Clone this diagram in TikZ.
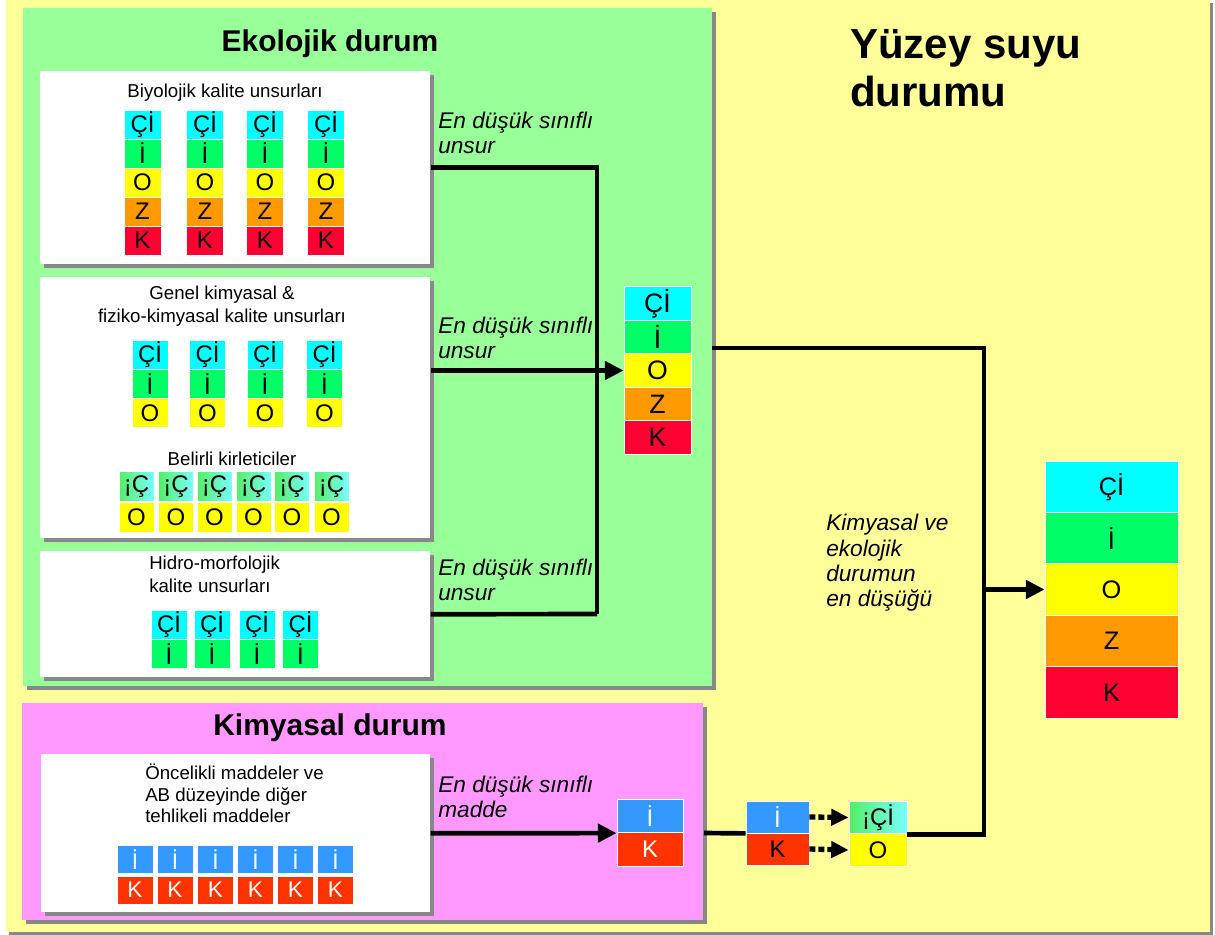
\documentclass[tikz,border=0pt]{standalone}
\usepackage{fontspec}
\setmainfont{Liberation Sans}
\usetikzlibrary{arrows.meta,shadows}
\definecolor{bgY}{HTML}{FFFF99}
\definecolor{ekoG}{HTML}{99FF99}
\definecolor{kimP}{HTML}{FF99FF}
\definecolor{cCi}{HTML}{00FFFF}
\definecolor{cI}{HTML}{00FF66}
\definecolor{cO}{HTML}{FFFF00}
\definecolor{cZ}{HTML}{FF9900}
\definecolor{cK}{HTML}{FF0033}
\definecolor{cB}{HTML}{3399FF}
\definecolor{cR}{HTML}{FF3300}
\definecolor{shd}{HTML}{888888}
\definecolor{gradG}{HTML}{55EE66}
\definecolor{gradC}{HTML}{77FFFF}
\begin{document}
\begin{tikzpicture}[x=0.75pt,y=-0.75pt,
  shadowed/.style={drop shadow={shadow xshift=2.5pt,shadow yshift=-2.5pt,fill=shd,opacity=1}},
  panel/.style={shadowed,fill=#1,draw=none,inner sep=0,anchor=north west},
  cell/.style={draw=white,line width=0.6pt,inner sep=0,font=\fontsize{18}{18}\selectfont},
  grad/.style={left color=gradG,right color=gradC},
  sm/.style={font=\fontsize{14}{17}\selectfont,inner sep=0},
  ttl/.style={font=\bfseries\fontsize{22.5}{27}\selectfont,inner sep=0},
  lab/.style={font=\itshape\fontsize{17}{18.75}\selectfont,align=left,inner sep=0,anchor=north west},
  conn/.style={line width=3.5pt},
  arr/.style={conn,-{Triangle[length=14pt,width=13.5pt]}},
  dotarr/.style={line width=4pt,dash pattern=on 4.5pt off 2.25pt,-{Triangle[length=13pt,width=12pt]}}
]
\useasboundingbox (0,0) rectangle (1215,935);
% background
\fill[bgY,shadowed] (6,0) rectangle (1210,932);

% main panels
\node[panel=ekoG,minimum width=516.75pt,minimum height=508.5pt] (eko) at (23,8) {};
\node[panel=kimP,minimum width=510.75pt,minimum height=162.75pt] (kim) at (22,703) {};

\node[ttl] (ekoT) at (330,44) {Ekolojik durum};
\node[ttl] (kimT) at (330,728) {Kimyasal durum};
\node[font=\bfseries\fontsize{31.5}{36}\selectfont,align=left,inner sep=0,anchor=north west] (yuz) at (850,29) {Yüzey suyu\\durumu};

% white boxes
\node[panel=white,minimum width=292.5pt,minimum height=144.75pt] (box1) at (40,71) {};
\node[panel=white,minimum width=292.5pt,minimum height=195.75pt] (box2) at (40,277) {};
\node[panel=white,minimum width=292.5pt,minimum height=94.5pt] (box3) at (40,551) {};
\node[panel=white,minimum width=291.75pt,minimum height=118.5pt] (box4) at (41,754) {};

% box texts
\node[sm] (t1) at (225,93) {Biyolojik kalite unsurları};
\node[sm,align=center,font=\fontsize{14}{17.25}\selectfont] (t2) at (222,306) {Genel kimyasal \&\\fiziko-kimyasal kalite unsurları};
\node[sm] (t3) at (232,459) {Belirli kirleticiler};
\node[sm,align=left,anchor=north west,font=\fontsize{14}{17.25}\selectfont] (t4) at (149,556) {Hidro-morfolojik\\kalite unsurları};
\node[sm,align=left,anchor=north west,font=\fontsize{14}{16.1}\selectfont] (t5) at (145,764) {Öncelikli maddeler ve\\AB düzeyinde diğer\\tehlikeli maddeler};

% biyolojik stacks
\foreach \x [count=\c] in {142.5,205,265,326}
  \foreach \y/\f/\t [count=\r] in {124.5/cCi/Çİ,153.5/cI/İ,182.5/cO/O,211.5/cZ/Z,240.5/cK/K}
    \node[cell,fill=\f,minimum width=27.75pt,minimum height=21.75pt] (bio\c\r) at (\x,\y) {\t};
% genel stacks
\foreach \x [count=\c] in {150,207.5,265,324.5}
  \foreach \y/\f/\t [count=\r] in {355/cCi/Çİ,384/cI/İ,413/cO/O}
    \node[cell,fill=\f,minimum width=27pt,minimum height=21.75pt] (gen\c\r) at (\x,\y) {\t};
% belirli kirleticiler
\foreach \x [count=\c] in {136.5,176,214.5,253.5,292,331.5} {
  \node[cell,grad,minimum width=26.25pt,minimum height=22.5pt] (bel\c a) at (\x,486.5) {¡Ç};
  \node[cell,fill=cO,minimum width=26.25pt,minimum height=22.5pt] (bel\c b) at (\x,517) {O};
}
% hidro-morfolojik
\foreach \x [count=\c] in {169,212,257,300.5}
  \foreach \y/\f/\t [count=\r] in {625/cCi/Çİ,654/cI/İ}
    \node[cell,fill=\f,minimum width=27pt,minimum height=21.75pt] (hid\c\r) at (\x,\y) {\t};
% kimyasal
\foreach \x [count=\c] in {135,175,215.5,255.5,295.5,335.5} {
  \node[cell,fill=cB,text=white,font=\fontsize{17}{17}\selectfont,minimum width=27pt,minimum height=21pt] (kim\c a) at (\x,859.5) {İ};
  \node[cell,fill=cR,text=white,font=\fontsize{17}{17}\selectfont,minimum width=27pt,minimum height=21pt] (kim\c b) at (\x,890) {K};
}

% middle ecological stack
\foreach \y/\f/\t [count=\r] in {303.5/cCi/Çİ,337/cI/İ,370.5/cO/O,404/cZ/Z,437.5/cK/K}
  \node[cell,fill=\f,font=\fontsize{20}{20}\selectfont,minimum width=50.25pt,minimum height=25.1pt] (mid\r) at (657.5,\y) {\t};

% final stack
\foreach \y/\f/\t [count=\r] in {486.7/cCi/Çİ,538.1/cI/İ,589.5/cO/O,640.9/cZ/Z,692.3/cK/K}
  \node[cell,fill=\f,font=\fontsize{19}{19}\selectfont,minimum width=99.75pt,minimum height=38.55pt] (fin\r) at (1111.5,\y) {\t};

% chemical small boxes
\node[cell,fill=cB,text=white,font=\fontsize{18}{18}\selectfont,minimum width=49.5pt,minimum height=25.1pt] (ik1a) at (650,816) {İ};
\node[cell,fill=cR,text=white,font=\fontsize{18}{18}\selectfont,minimum width=49.5pt,minimum height=25.1pt] (ik1b) at (650,849.5) {K};
\node[cell,fill=cB,text=white,font=\fontsize{18}{18}\selectfont,minimum width=47.25pt,minimum height=24pt] (ik2a) at (777.5,817) {İ};
\node[cell,fill=cR,font=\fontsize{18}{18}\selectfont,minimum width=47.25pt,minimum height=24pt] (ik2b) at (777.5,849) {K};
\node[cell,grad,font=\fontsize{18}{18}\selectfont,minimum width=43.5pt,minimum height=24.4pt] (ik3a) at (878,817.5) {¡Çİ};
\node[cell,fill=cO,font=\fontsize{18}{18}\selectfont,minimum width=43.5pt,minimum height=24.4pt] (ik3b) at (878,850) {O};

% labels
\node[lab] (l1) at (438,112) {En düşük sınıflı\\unsur};
\node[lab] (l2) at (438,317) {En düşük sınıflı\\unsur};
\node[lab] (l3) at (438,559) {En düşük sınıflı\\unsur};
\node[lab] (l4) at (438,776) {En düşük sınıflı\\madde};
\node[lab,font=\itshape\fontsize{17}{19}\selectfont] (l5) at (826,514) {Kimyasal ve\\ekolojik\\durumun\\en düşüğü};

% connectors
\coordinate (jn) at (597,614);
\coordinate (ekoOut) at (712,348);
\coordinate (jr) at (984,589.5);
\coordinate (kimOut) at (704,833);
\draw[conn] (box1.east) -| (jn);
\draw[conn] (box3.east) -- (jn);
\draw[arr] (box2.east |- mid3.west) -- (mid3.west);
\draw[conn] (ekoOut) -| (jr) |- (ik3a.south east);
\draw[arr] (jr) -- (fin3.west);
\draw[arr] (box4.east) -- (ik1a.south west);
\draw[conn] (kimOut) -- (ik2a.south west);
\draw[dotarr] (ik2a.east) -- (ik3a.west);
\draw[dotarr] (ik2b.east) -- (ik3b.west);
\end{tikzpicture}
\end{document}
